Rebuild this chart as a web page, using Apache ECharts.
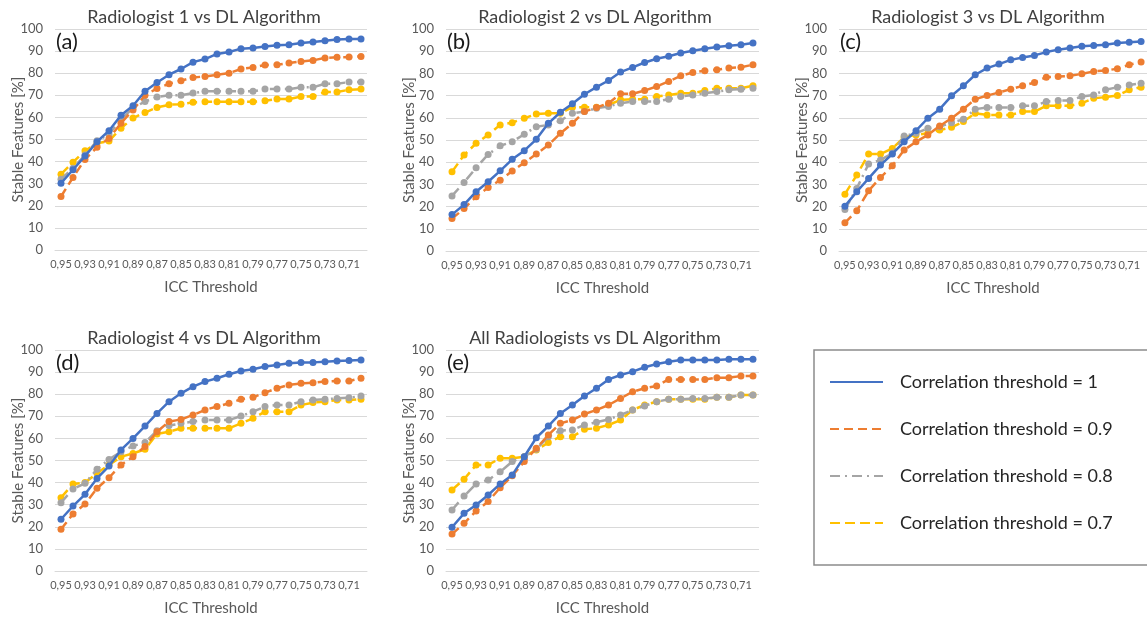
<!DOCTYPE html>
<html>
<head>
<meta charset="utf-8">
<script src="https://cdn.jsdelivr.net/npm/echarts@6/dist/echarts.min.js"></script>
<style>
html,body{margin:0;padding:0;background:#fff;}
#chart{width:1147px;height:623px;}
</style>
</head>
<body>
<div id="chart"></div>
<script>
// ICC threshold categories (x axis)
const iccThresholds = ['0,95','0,94','0,93','0,92','0,91','0,90','0,89','0,88','0,87','0,86','0,85','0,84','0,83','0,82','0,81','0,80','0,79','0,78','0,77','0,76','0,75','0,74','0,73','0,72','0,71','0,70'];

const panelTitles = ['Radiologist 1 vs DL Algorithm','Radiologist 2 vs DL Algorithm','Radiologist 3 vs DL Algorithm','Radiologist 4 vs DL Algorithm','All Radiologists vs DL Algorithm'];
const panelLetters = ['(a)','(b)','(c)','(d)','(e)'];
const seriesNames = ['Correlation threshold = 1','Correlation threshold = 0.9','Correlation threshold = 0.8','Correlation threshold = 0.7'];

// Panel (a) Radiologist 1
const rad1Corr10 = [30.2,36.3,42.5,49,54,61,65.3,71.8,75.8,79.3,81.9,85,86.4,88.7,89.6,91.1,91.4,92.1,92.6,92.9,93.7,94.1,94.7,95.2,95.5,95.5];
const rad1Corr09 = [24.2,32.8,41,46.5,50.5,57.4,63.4,70,73.1,75.2,76.6,78.1,78.5,79.3,80,81.9,82.6,83.7,83.8,84.6,85.3,85.8,86.9,87.2,87.3,87.6];
const rad1Corr08 = [32,37,43,49.4,52.4,59.2,64.2,67.2,69.2,70,70,71,71.8,71.8,71.8,71.8,71.8,72.8,72.8,72.8,73.6,73.6,75.2,75.2,76,76];
const rad1Corr07 = [34.3,39.7,44.9,48.3,49.3,55.1,59.7,62.2,64.5,65.7,66,66.8,67.1,67.1,67.1,67.1,67.1,67.5,68.3,68.3,69.5,69.5,71.5,71.5,72.5,72.8];

// Panel (b) Radiologist 2
const rad2Corr10 = [16.4,20.9,26.7,31.2,36.1,41.3,45.2,50.3,57.5,62.5,66.3,70.6,73.8,76.8,80.6,82.7,84.9,86.6,87.7,89.2,90.2,91.1,91.9,92.5,92.9,93.7];
const rad2Corr09 = [14.6,19.1,24.4,28.6,31.9,36,39.8,43.7,47.7,53,57.5,62.8,64.6,66.6,70.8,70.8,72.3,74.1,76.4,78.9,80.4,81.2,81.6,82.4,82.8,83.9];
const rad2Corr08 = [24.8,30.9,37.5,43.5,47.4,49.2,52.6,56,56.8,58.7,62,62.8,64.3,65.1,66.6,67.3,67.3,67.3,68.4,69.6,70.3,71.1,71.8,72.6,72.9,73.3];
const rad2Corr07 = [35.7,43.2,48.5,52.3,56.8,57.8,59.8,61.7,62,62,64.8,64.8,64.8,65.8,68.1,68.4,68.4,69.6,70.3,71.1,71.1,72.3,73.3,73.3,73.3,74.4];

// Panel (c) Radiologist 3
const rad3Corr10 = [20.2,26.7,32.7,38.7,43.7,49.2,54.2,59.8,63.9,69.9,74.4,79.4,82.4,84.2,86.1,87.2,88.1,89.6,90.7,91.4,92.2,92.6,92.9,93.7,94,94.4];
const rad3Corr09 = [12.7,18.1,27.1,33.1,38.4,45.5,49.2,52.3,56.3,59.8,63.9,68.4,70,71.4,72.9,74.4,75.9,78.3,78.6,78.9,79.8,80.9,81.3,82.1,83.9,85.1];
const rad3Corr08 = [18.7,28.2,39.2,41,44,51.8,53,55.3,56,57.8,59.3,63.9,64.6,64.6,64.6,65.4,65.4,67.3,67.8,67.8,69.6,70.3,72.6,73.8,74.8,75.6];
const rad3Corr07 = [25.6,34.2,43.7,43.7,46.2,51.2,52.3,53,54.5,55.7,58.3,62,61.3,61.3,61.3,62.8,62.8,65.4,65.4,65.4,66.6,68.8,69.3,70,72.6,73.8];

// Panel (d) Radiologist 4
const rad4Corr10 = [23.4,29.4,34.7,41.9,47.5,54.8,60,65.6,71.3,76.6,80.4,83.4,85.7,87.2,89,90.5,91.3,92.5,93.2,94,94.3,94.4,94.7,95,95.2,95.5];
const rad4Corr09 = [18.9,25.8,30.3,37.4,42.2,48,51.7,56.3,63,67.6,68.6,70.6,72.9,74.4,75.9,77.7,78.6,80.7,82.7,84.2,84.9,85.2,85.7,86,86,87.2];
const rad4Corr08 = [30.9,37.1,39.7,46,50.5,54,56.6,58.1,63.5,65.8,66.8,67.6,68.3,68.3,68.3,70.1,72.1,74.4,75.1,75.1,76.6,77.4,77.7,78.1,78.4,79.2];
const rad4Corr07 = [33.2,39.4,40,44.2,48,51.7,53.2,55.1,62,63,64.6,64.6,64.6,64.6,64.6,66.8,69.1,72.1,72.1,72.1,75.1,76.2,76.6,77.4,77.4,77.7];

// Panel (e) All radiologists
const allCorr10 = [19.8,26.1,29.9,34.4,39.4,43.4,51.7,60.3,65.6,71.3,75.1,79.2,82.7,86.7,88.7,90.2,92.2,93.7,94.7,95.5,95.5,95.5,95.5,95.8,95.8,95.8];
const allCorr09 = [16.7,21.6,27.1,31.4,37.7,43.1,49.5,55.5,61.5,66.8,68.3,71,72.9,75.1,78.1,81.1,82.7,83.7,86.7,86.7,86.7,86.7,87.5,87.5,88.2,88.2];
const allCorr08 = [27.6,33.9,39.4,41.2,44.9,49.5,51.7,55.1,60.8,63.5,63.8,66.1,67.3,68.6,70.6,72.9,74.7,76.6,77.7,77.7,78.1,78.1,78.6,78.6,79.6,79.6];
const allCorr07 = [36.7,41.5,48,48,51,51,51.7,54.8,58.1,60.8,60.8,64.1,64.6,66.1,68.3,72.9,75.1,76.6,77.7,77.7,77.7,77.7,78.6,78.6,79.6,79.6];

const panelData = [
  [rad1Corr10, rad1Corr09, rad1Corr08, rad1Corr07],
  [rad2Corr10, rad2Corr09, rad2Corr08, rad2Corr07],
  [rad3Corr10, rad3Corr09, rad3Corr08, rad3Corr07],
  [rad4Corr10, rad4Corr09, rad4Corr08, rad4Corr07],
  [allCorr10, allCorr09, allCorr08, allCorr07]
];

const FONT = 'Lato, "Open Sans", sans-serif';
const colors = ['#4472C4','#ED7D31','#A5A5A5','#FFC000'];
const dashes = ['solid',[9,5],[10,5,2,5],[10,5]];

// panel geometry (px)
const panelBoxes = [
  {left:55, top:29, width:312, height:221},
  {left:446, top:29, width:313, height:222},
  {left:839, top:29, width:312, height:222},
  {left:55, top:350, width:312, height:221},
  {left:446, top:350, width:313, height:221}
];

const grids = [], xAxes = [], yAxes = [], series = [], titles = [];
panelBoxes.forEach((b, p) => {
  grids.push({left:b.left, top:b.top, width:b.width, height:b.height, containLabel:false});
  xAxes.push({
    type:'category', gridIndex:p, data:iccThresholds, boundaryGap:true,
    axisTick:{show:false},
    axisLine:{lineStyle:{color:'#D9D9D9', width:1}},
    axisLabel:{interval:1, fontSize:11, color:'#595959', margin:9, fontFamily:FONT},
    name:'ICC Threshold', nameLocation:'middle', nameGap:30, nameMoveOverlap:false,
    nameTextStyle:{fontSize:15, color:'#595959', fontFamily:FONT}
  });
  yAxes.push({
    type:'value', gridIndex:p, min:0, max:100, interval:10,
    axisLine:{show:false}, axisTick:{show:false},
    splitLine:{lineStyle:{color:'#D9D9D9', width:1}},
    axisLabel:{fontSize:13, color:'#595959', margin:12, fontFamily:FONT},
    name:'Stable Features [%]', nameLocation:'middle', nameGap:29, nameMoveOverlap:false,
    nameTextStyle:{fontSize:15, color:'#595959', fontFamily:FONT}
  });
  titles.push({
    text:panelTitles[p], left:b.left + 149, top:b.top - 21, textAlign:'center', padding:0,
    textStyle:{fontSize:18, fontWeight:'normal', color:'#404040', fontFamily:FONT}
  });
  titles.push({
    text:panelLetters[p], left:b.left + 1, top:b.top + 2, padding:0,
    textStyle:{fontSize:22, fontWeight:'normal', color:'#1a1a1a', fontFamily:FONT}
  });
  panelData[p].forEach((vals, s) => {
    series.push({
      name:seriesNames[s], type:'line', xAxisIndex:p, yAxisIndex:p,
      data:vals, symbol:'circle', symbolSize:7,
      itemStyle:{color:colors[s]},
      lineStyle:{color:colors[s], width:2.5, type:dashes[s]},
      z: 10 - s
    });
  });
});

const chart = echarts.init(document.getElementById('chart'), null, {renderer:'canvas'});
chart.setOption({
  animation:false,
  textStyle:{fontFamily:FONT},
  title:titles,
  grid:grids, xAxis:xAxes, yAxis:yAxes, series:series,
  legend:{
    data:seriesNames, orient:'vertical', left:814, top:350,
    padding:[23, 60, 33, 15], itemWidth:53, itemHeight:14, itemGap:29,
    borderColor:'#8C8C8C', borderWidth:1.5,
    itemStyle:{opacity:0},
    textStyle:{fontSize:18, color:'#262626', fontFamily:FONT, padding:[0,0,0,12]}
  }
});
</script>
</body>
</html>
